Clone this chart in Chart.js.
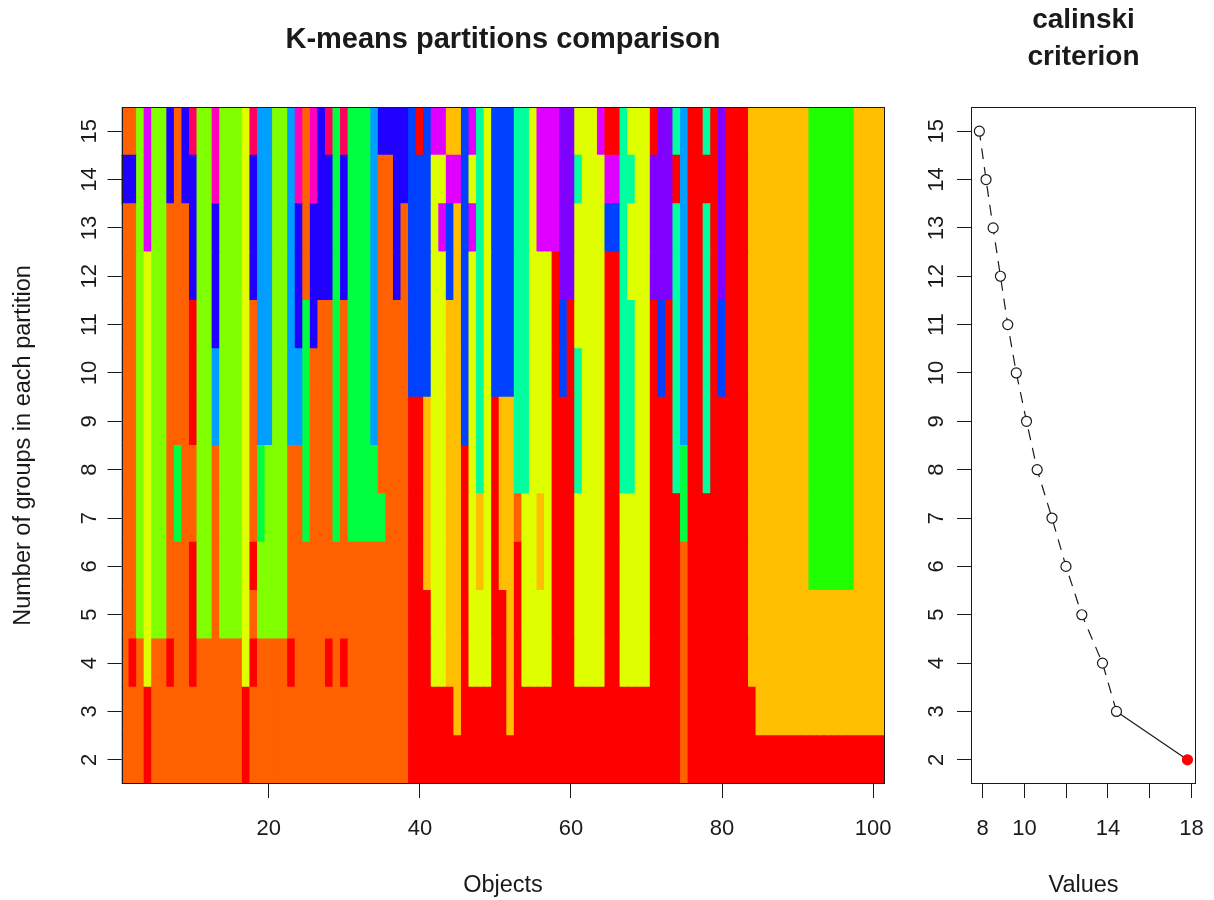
<!DOCTYPE html>
<html><head><meta charset="utf-8">
<script src="https://cdn.jsdelivr.net/npm/chart.js@4.4.1/dist/chart.umd.min.js"></script>
<style>
html,body{margin:0;padding:0;background:#fff;}
#wrap{position:relative;width:1214px;height:900px;background:#fff;}
#c1{position:absolute;left:0;top:0;}
#c2{position:absolute;left:900px;top:0;}
</style></head><body>
<div id="wrap">
<canvas id="c1" width="900" height="900"></canvas>
<canvas id="c2" width="314" height="900"></canvas>
</div>
<script>
// ---------------- DATA ----------------
// number of groups in each partition (rows of the heat map)
const partitions = [2,3,4,5,6,7,8,9,10,11,12,13,14,15];
// calinski criterion value for each partition (same order)
const calinski = [17.81, 14.41, 13.74, 12.75, 11.99, 11.32, 10.61, 10.10, 9.61, 9.20, 8.85, 8.50, 8.16, 7.84];
// tick values
const objectTicks = [20, 40, 60, 80, 100];
const valueTicks = [8, 10, 12, 14, 16, 18];
const valueTickLabels = ['8', '10', '', '14', '', '18'];
// group colour codes
const groupColors = {
  R:'#FF0000', O:'#FF6000', A:'#FFBF00', Y:'#DFFF00', L:'#80FF00', G:'#20FF00',
  S:'#00FF40', M:'#00FF9F', C:'#00FFFF', B:'#009FFF', N:'#0040FF', D:'#2000FF',
  V:'#8000FF', P:'#DF00FF', K:'#FF00BF', X:'#FF0060'
};
// group membership of each object; one string per object, read from k=15 (top) down to k=2 (bottom)
const objects1to25 = [
 'ODOOOOOOOOOOOO','ODOOOOOOOOOROO','LLLLLLLLLLLOOO','PPPYYYYYYYYYRR','LLLLLLLLLLLOOO',
 'LLLLLLLLLLLOOO','DDOOOOOOOOOROO','OOOOOOOSSOOOOO','DDOOOOOOOOOOOO','XDDDRRROORRROO',
 'LLLLLLLLLLLOOO','LLLLLLLLLLLOOO','KKDDDBBOOOOOOO','LLLLLLLLLLLOOO','LLLLLLLLLLLOOO',
 'LLLLLLLLLLLOOO','YYYYYYYYYYYYRR','XDDDOOOOOROROO','BBBBBBBSSLLOOO','BBBBBBBLLLLOOO',
 'LLLLLLLLLLLOOO','LLLLLLLLLLLOOO','BBBBBBBOOOOROO','KKDDDBBOOOOOOO','OOOOSSSSSOOOOO'
];
const objects26to50 = [
 'KKDDDOOOOOOOOO','DDDDOOOOOOOOOO','XDDDOOOOOOOROO','SSSSSSSSSOOOOO','XDDDOOOOOOOROO',
 'SSSSSSSSSOOOOO','SSSSSSSSSOOOOO','SSSSSSSSSOOOOO','BBBBBBBSSOOOOO','DOOOOOOOSOOOOO',
 'DOOOOOOOOOOOOO','DDDDOOOOOOOOOO','DDOOOOOOOOOOOO','NNNNNNRRRRRRRR','RNNNNNRRRRRRRR',
 'NNNNNNAAAARRRR','PYYYYYYYYYYYRR','PYPYYYYYYYYYRR','APNNAAAAAAAARR','APAAAAAAAAAAAR',
 'NNNNNNNRRRRRRR','PYPYYYYYYYYYRR','MMMMMMMMAAYYRR','YYYYYYYYYYYYRR','NNNNNNRRRRRRRR'
];
const objects51to75 = [
 'NNNNNNAAAARRRR','NNNNNNAAAAAAAR','MMMMMMMMORRRRR','MMMMMMMMYYYYRR','YYYYYYYYYYYYRR',
 'PPPYYYYYAAYYRR','PPPYYYYYYYYYRR','PPPRRRRRRRRRRR','VVVVNNRRRRRRRR','VVVVRRRRRRRRRR',
 'YMYYYMMMYYYYRR','YYYYYYYYYYYYRR','YYYYYYYYYYYYRR','PYYYYYYYYYYYRR','RPNRRRRRRRRRRR',
 'RPNRRRRRRRRRRR','MMMMMMMMYYYYRR','YMYYMMMMYYYYRR','YYYYYYYYYYYYRR','YYYYYYYYYYYYRR',
 'RVVVRRRRRRRRRR','VVVVNNRRRRRRRR','VVVVRRRRRRRRRR','MRMMMMMMRRRRRR','BBBBBBBSSOOOOO'
];
const objects76to101 = [
 'RRRRRRRRRRRRRR','RRRRRRRRRRRRRR','MRMMMMMMRRRRRR','RRRRRRRRRRRRRR','VVVVNNRRRRRRRR',
 'RRRRRRRRRRRRRR','RRRRRRRRRRRRRR','RRRRRRRRRRRRRR','AAAAAAAAAAAARR','AAAAAAAAAAAAAR',
 'AAAAAAAAAAAAAR','AAAAAAAAAAAAAR','AAAAAAAAAAAAAR','AAAAAAAAAAAAAR','AAAAAAAAAAAAAR',
 'AAAAAAAAAAAAAR','GGGGGGGGGGAAAR','GGGGGGGGGGAAAR','GGGGGGGGGGAAAR','GGGGGGGGGGAAAR',
 'GGGGGGGGGGAAAR','GGGGGGGGGGAAAR','AAAAAAAAAAAAAR','AAAAAAAAAAAAAR','AAAAAAAAAAAAAR',
 'AAAAAAAAAAAAAR'
];
// ---------------- BUILD ----------------
const memberships = [...objects1to25, ...objects26to50, ...objects51to75, ...objects76to101];
const objects = memberships.map((_, i) => i + 1);
const FONT = '"Liberation Sans", Arial, Helvetica, sans-serif';
const INK = '#1a1a1a';

const heatDatasets = partitions.map(k => ({
  label: 'k=' + k,
  data: objects.map(o => ({x: o, y: [k - 0.5, k + 0.5]})),
  backgroundColor: objects.map(o => groupColors[memberships[o - 1][15 - k]]),
  borderWidth: 0,
  grouped: false,
  barPercentage: 1,
  categoryPercentage: 1,
  inflateAmount: 0.5
}));

function rotatedTickLabels(ctx, scale, baselineX) {
  ctx.save();
  ctx.fillStyle = INK;
  ctx.font = '22px ' + FONT;
  ctx.textAlign = 'center';
  ctx.textBaseline = 'alphabetic';
  scale.ticks.forEach(t => {
    const y = scale.getPixelForValue(t.value);
    ctx.save();
    ctx.translate(baselineX, y);
    ctx.rotate(-Math.PI / 2);
    ctx.fillText(String(t.value), 0, 0);
    ctx.restore();
  });
  ctx.restore();
}
function drawBox(ctx, a) {
  ctx.save();
  ctx.strokeStyle = INK;
  ctx.lineWidth = 1;
  ctx.strokeRect(Math.round(a.left) + 0.5, Math.round(a.top) + 0.5,
                 Math.round(a.right - a.left) - 1, Math.round(a.bottom - a.top) - 1);
  ctx.restore();
}
function noPad(s) { s.paddingLeft = 0; s.paddingRight = 0; s.paddingTop = 0; s.paddingBottom = 0; }

const leftText = {
  id: 'leftText',
  afterDraw(chart) {
    const ctx = chart.ctx, a = chart.chartArea, cx = (a.left + a.right) / 2;
    drawBox(ctx, a);
    ctx.save();
    ctx.fillStyle = INK;
    ctx.textAlign = 'center';
    ctx.textBaseline = 'alphabetic';
    ctx.font = 'bold 29px ' + FONT;
    ctx.fillText('K-means partitions comparison', cx, 48);
    ctx.font = '23.5px ' + FONT;
    ctx.fillText('Objects', cx, 892);
    ctx.save();
    ctx.translate(30, (a.top + a.bottom) / 2);
    ctx.rotate(-Math.PI / 2);
    ctx.fillText('Number of groups in each partition', 0, 0);
    ctx.restore();
    ctx.restore();
    rotatedTickLabels(ctx, chart.scales.y, 96);
  }
};

const rightText = {
  id: 'rightText',
  afterDraw(chart) {
    const ctx = chart.ctx, a = chart.chartArea, cx = (a.left + a.right) / 2;
    drawBox(ctx, a);
    ctx.save();
    ctx.fillStyle = INK;
    ctx.textAlign = 'center';
    ctx.textBaseline = 'alphabetic';
    ctx.font = 'bold 28px ' + FONT;
    ctx.fillText('calinski', cx, 28);
    ctx.fillText('criterion', cx, 65);
    ctx.font = '23.5px ' + FONT;
    ctx.fillText('Values', cx, 892);
    ctx.restore();
    rotatedTickLabels(ctx, chart.scales.y, 943 - 900);
  }
};

const tickGrid = {drawOnChartArea: false, drawTicks: true, tickLength: 14, color: INK, lineWidth: 1, offset: false};

new Chart(document.getElementById('c1'), {
  type: 'bar',
  data: {datasets: heatDatasets},
  options: {
    responsive: false, animation: false, events: [],
    layout: {padding: {left: 0, top: 107, right: 15.5, bottom: 0}},
    plugins: {legend: {display: false}, tooltip: {enabled: false}},
    scales: {
      x: {
        type: 'linear', min: 0.5, max: 101.5, offset: false,
        afterBuildTicks: s => { s.ticks = objectTicks.map(v => ({value: v})); },
        afterFit: s => { s.height = 116; noPad(s); },
        ticks: {autoSkip: false, maxRotation: 0, minRotation: 0, padding: 18, color: INK, font: {family: FONT, size: 22}},
        grid: tickGrid, border: {display: false}
      },
      y: {
        type: 'linear', min: 1.5, max: 15.5, offset: false,
        afterBuildTicks: s => { s.ticks = partitions.map(v => ({value: v})); },
        afterFit: s => { s.width = 121.5; noPad(s); },
        ticks: {display: false},
        grid: tickGrid, border: {display: false}
      }
    }
  },
  plugins: [leftText]
});

const bestK = partitions[calinski.indexOf(Math.max(...calinski))];
new Chart(document.getElementById('c2'), {
  type: 'line',
  data: {
    datasets: [{
      data: partitions.map((k, i) => ({x: calinski[i], y: k})),
      borderColor: INK, borderWidth: 1.2, tension: 0, fill: false,
      pointRadius: 5, pointBorderWidth: 1.2,
      pointBackgroundColor: partitions.map(k => k === bestK ? '#FF0000' : '#FFFFFF'),
      pointBorderColor: partitions.map(k => k === bestK ? '#FF0000' : INK),
      segment: {
        borderDash: c => (c.p0.parsed.y === bestK || c.p1.parsed.y === bestK) ? [] : [11, 8]
      },
      clip: false
    }]
  },
  options: {
    responsive: false, animation: false, events: [],
    layout: {padding: {left: 0, top: 107, right: 18, bottom: 0}},
    plugins: {legend: {display: false}, tooltip: {enabled: false}},
    scales: {
      x: {
        type: 'linear', min: 7.44, max: 18.22, offset: false,
        afterBuildTicks: s => { s.ticks = valueTicks.map(v => ({value: v})); },
        afterFit: s => { s.height = 116; noPad(s); },
        ticks: {autoSkip: false, maxRotation: 0, minRotation: 0, padding: 18, color: INK, font: {family: FONT, size: 22},
                callback: (v) => valueTickLabels[valueTicks.indexOf(v)] ?? ''},
        grid: tickGrid, border: {display: false}
      },
      y: {
        type: 'linear', min: 1.5, max: 15.5, offset: false,
        afterBuildTicks: s => { s.ticks = partitions.map(v => ({value: v})); },
        afterFit: s => { s.width = 71; noPad(s); },
        ticks: {display: false},
        grid: tickGrid, border: {display: false}
      }
    }
  },
  plugins: [rightText]
});
</script>
</body></html>
